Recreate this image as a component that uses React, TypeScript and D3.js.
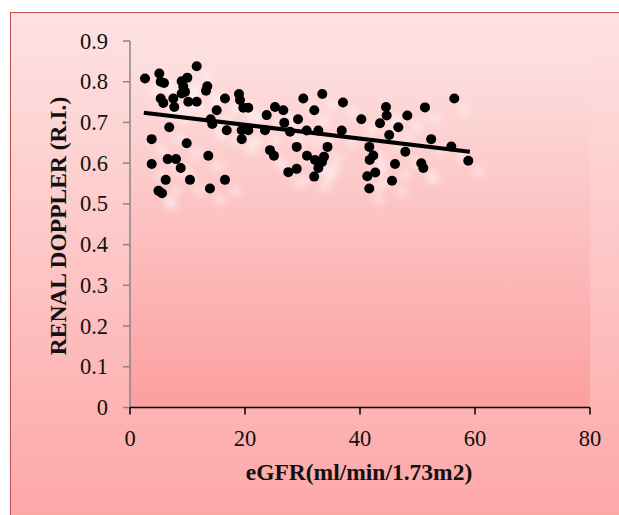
import React from "react";
import * as d3 from "d3";

const eGFR = [
  2.61, 5.1, 5.34, 5.91, 5.34, 5.79, 7.53, 7.7, 8.99, 9.97, 9.27, 9.57, 8.99, 10.14, 11.6, 11.6,
  13.44, 13.22, 15.08, 14.03, 14.31, 16.52, 18.96, 19.13, 19.7, 20.57, 16.82, 19.43, 20.57, 19.43,
  6.83, 3.77, 9.86, 13.62, 3.77, 6.56, 8.0, 8.82, 6.21, 10.43, 16.52, 13.91, 4.96, 5.57,
  23.77, 25.22, 26.66, 23.48, 26.83, 24.35, 25.04, 27.83, 29.22, 28.99, 27.53, 28.99,
  30.14, 33.44, 37.04, 32.05, 30.73, 32.75, 36.82, 34.35, 30.78, 32.17, 33.74, 33.39, 32.75, 32.03,
  40.23, 43.48, 44.52, 44.64, 48.23, 46.66, 45.08, 51.3, 56.4, 52.38, 55.88, 58.83, 47.88,
  41.62, 42.31, 41.69, 46.09, 50.66, 51.01, 42.66, 41.27, 45.57, 41.62,
];
const resistiveIndex = [
  0.808, 0.82, 0.8, 0.797, 0.759, 0.748, 0.759, 0.738, 0.801, 0.81, 0.788, 0.775, 0.771, 0.751, 0.751, 0.838,
  0.789, 0.778, 0.73, 0.708, 0.696, 0.759, 0.77, 0.755, 0.736, 0.736, 0.681, 0.681, 0.681, 0.659,
  0.688, 0.659, 0.649, 0.618, 0.598, 0.61, 0.61, 0.588, 0.559, 0.559, 0.559, 0.538, 0.532, 0.526,
  0.718, 0.738, 0.73, 0.681, 0.699, 0.632, 0.618, 0.677, 0.708, 0.64, 0.578, 0.586,
  0.759, 0.77, 0.749, 0.73, 0.68, 0.68, 0.68, 0.64, 0.618, 0.608, 0.616, 0.603, 0.588, 0.567,
  0.708, 0.698, 0.738, 0.717, 0.717, 0.688, 0.669, 0.737, 0.759, 0.659, 0.641, 0.606, 0.628,
  0.64, 0.619, 0.608, 0.598, 0.6, 0.588, 0.577, 0.568, 0.557, 0.538,
];
const trendX = [2.4, 59.1];
const trendY = [0.724, 0.628];
const xTicks = [0, 20, 40, 60, 80];
const yTicks = [0, 0.1, 0.2, 0.3, 0.4, 0.5, 0.6, 0.7, 0.8, 0.9];
const xTitle = "eGFR(ml/min/1.73m2)";
const yTitle = "RENAL DOPPLER (R.I.)";

export default function App() {
  const W = 619, H = 515;
  const left = 130, right = 590, top = 41, bottom = 407.5;
  const x = d3.scaleLinear().domain([0, 80]).range([left, right]);
  const y = d3.scaleLinear().domain([0, 0.9]).range([bottom, top]);
  const pts = eGFR.map((v, i) => [v, resistiveIndex[i]] as [number, number]);
  const line = d3.line<number>().x((d) => x(d)).y((_, i) => y(trendY[i]));
  const font = "'Liberation Serif', 'Times New Roman', serif";
  return (
    <svg width={W} height={H} style={{ position: "absolute", left: 0, top: 0 }}>
      <defs>
        <linearGradient id="outer" x1="0" y1="0" x2="0" y2="1">
          <stop offset="0" stopColor="#fee2e2" />
          <stop offset="1" stopColor="#fda6a6" />
        </linearGradient>
        <linearGradient id="inner" x1="0" y1="0" x2="0" y2="1">
          <stop offset="0" stopColor="#fde2e2" />
          <stop offset="1" stopColor="#fc9f9f" />
        </linearGradient>
        <filter id="blur" x="-50%" y="-50%" width="200%" height="200%">
          <feGaussianBlur stdDeviation="3" />
        </filter>
      </defs>
      <rect x={10.5} y={12.5} width={W} height={H} fill="url(#outer)" stroke="#c0504d" strokeWidth={1} />
      <rect x={left} y={top} width={right - left} height={bottom - top} fill="url(#inner)" />
      <g filter="url(#blur)">
        {pts.map((p, i) => (
          <circle key={"g" + i} cx={x(p[0]) + 10} cy={y(p[1]) + 11} r={6} fill="#ffffff" opacity={0.35} />
        ))}
      </g>
      {/* y axis */}
      <line x1={left} x2={left} y1={top} y2={bottom} stroke="#868686" strokeWidth={1.5} />
      {yTicks.map((t) => (
        <g key={"y" + t}>
          <line x1={left - 7} x2={left} y1={y(t)} y2={y(t)} stroke="#868686" strokeWidth={1.5} />
          <text x={108} y={y(t) + 7.5} textAnchor="end" fontFamily={font} fontSize={22.5} fill="#111">
            {t === 0 ? "0" : d3.format(".1f")(t)}
          </text>
        </g>
      ))}
      {/* x axis */}
      <line x1={left} x2={right} y1={bottom} y2={bottom} stroke="#000" strokeWidth={1.5} />
      {xTicks.map((t) => (
        <g key={"x" + t}>
          <line x1={x(t)} x2={x(t)} y1={bottom} y2={bottom + 7} stroke="#000" strokeWidth={1.5} />
          <text x={x(t)} y={446} textAnchor="middle" fontFamily={font} fontSize={22.5} fill="#111">
            {t}
          </text>
        </g>
      ))}
      {pts.map((p, i) => (
        <circle key={"p" + i} cx={x(p[0])} cy={y(p[1])} r={5} fill="#000" />
      ))}
      <path d={line(trendX) || ""} stroke="#000" strokeWidth={4} fill="none" />
      <text x={359} y={480} textAnchor="middle" fontFamily={font} fontSize={23.5} fontWeight="bold" fill="#111">
        {xTitle}
      </text>
      <text
        transform={`translate(66,226) rotate(-90)`}
        textAnchor="middle"
        fontFamily={font}
        fontSize={23.5}
        fontWeight="bold"
        fill="#111"
      >
        {yTitle}
      </text>
    </svg>
  );
}
